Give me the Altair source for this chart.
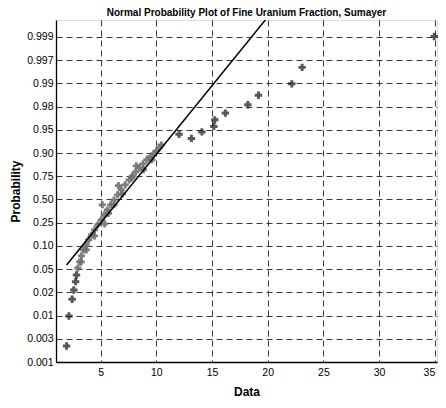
import altair as alt
import pandas as pd

# Probability tick labels (uniformly spaced positions 0..14 as in the reference)
prob_labels = ["0.001", "0.003", "0.01", "0.02", "0.05", "0.10", "0.25", "0.50",
               "0.75", "0.90", "0.95", "0.98", "0.99", "0.997", "0.999"]
x_ticks = [5, 10, 15, 20, 25, 30, 35]

# Isolated (tail) observations: data value, probability-position
tail_x = [1.94, 2.15, 2.44, 2.59, 2.75, 2.83,
          12.04, 13.15, 14.09, 15.16, 15.25, 16.20, 18.22, 19.17, 22.16, 23.09, 34.95]
tail_y = [0.69, 1.98, 2.70, 3.10, 3.46, 3.75,
          9.81, 9.63, 9.91, 10.14, 10.43, 10.72, 11.08, 11.49, 11.98, 12.69, 14.02]

# Dense central band of observations
band_x = [2.95, 3.12, 3.28, 3.45, 3.68, 3.92, 4.18, 4.45, 4.75, 5.05, 5.32, 5.60, 5.90, 6.20,
          6.52, 6.85, 7.20, 7.56, 7.85, 8.15, 8.47, 8.80, 9.15, 9.45, 9.75, 10.02, 10.25, 10.44,
          5.15, 4.45, 5.35, 6.20, 6.95, 7.80, 8.85, 9.60, 3.72, 3.25, 6.60, 8.20, 5.70]
band_y = [4.05, 4.31, 4.57, 4.83, 5.04, 5.26, 5.47, 5.69, 5.91, 6.12, 6.34, 6.55, 6.77, 6.98,
          7.20, 7.41, 7.63, 7.84, 8.02, 8.19, 8.36, 8.53, 8.71, 8.84, 8.97, 9.09, 9.22, 9.35,
          6.77, 5.43, 5.95, 6.77, 7.24, 7.93, 8.28, 8.71, 4.83, 4.31, 7.60, 8.45, 6.40]

# Reference normal fit line
fit_x = [1.94, 21.0]
fit_y = [4.18, 15.45]

tail = pd.DataFrame({"Data": tail_x, "P": tail_y})
band = pd.DataFrame({"Data": band_x, "P": band_y})
fit = pd.DataFrame({"Data": fit_x, "P": fit_y})

label_arr = "[" + ",".join("'%s'" % s for s in prob_labels) + "]"

xscale = alt.Scale(domain=[0.99, 35.2], nice=False, zero=False)
yscale = alt.Scale(domain=[0, 14.73], nice=False, zero=False)

font = "Liberation Sans"

xaxis = alt.Axis(values=x_ticks, title="Data", grid=True,
                 gridDash=[6, 4], gridColor="#222222", gridWidth=0.9, ticks=False,
                 domainColor="black", domainWidth=1.3, labelFont=font, labelFontSize=10.5,
                 labelColor="black", labelPadding=5, labelOverlap=False,
                 labelAlign={"condition": {"test": "datum.value >= 35", "value": "right"},
                             "value": "center"},
                 titleFont=font, titleFontSize=12,
                 titleFontWeight="bold", titleColor="black", titlePadding=9)
yaxis = alt.Axis(values=list(range(15)), title="Probability", grid=True,
                 gridDash=[6, 4], gridColor="#222222", gridWidth=0.9, ticks=False,
                 labelExpr=label_arr + "[datum.value]", labelOverlap=False,
                 domainColor="black", domainWidth=1.3, labelFont=font, labelFontSize=10.5,
                 labelColor="black", labelPadding=3, titleFont=font, titleFontSize=12,
                 titleFontWeight="bold", titleColor="black", titlePadding=4)

X = alt.X("Data:Q", scale=xscale, axis=xaxis)
Y = alt.Y("P:Q", scale=yscale, axis=yaxis)

band_layer = alt.Chart(band).mark_point(shape="cross", filled=True, size=50,
                                        color="#707070", opacity=0.9).encode(x=X, y=Y)
tail_layer = alt.Chart(tail).mark_point(shape="cross", filled=True, size=55,
                                        color="#111111").encode(x=X, y=Y)
line_layer = alt.Chart(fit).mark_line(color="black", strokeWidth=1.5, clip=True).encode(
    x=X, y=Y)

chart = alt.layer(band_layer, tail_layer, line_layer).properties(
    width=381, height=342,
    title=alt.TitleParams("Normal Probability Plot  of Fine Uranium Fraction, Sumayer",
                          font=font, fontSize=10, fontWeight="bold", color="black",
                          anchor="middle", offset=2),
    autosize=alt.AutoSizeParams(type="none"),
    padding={"left": 48, "top": 12, "right": 1, "bottom": 37},
).configure_view(stroke="black", strokeWidth=1.3).configure(background="white")

chart.save("out.html", embed_options={"renderer": "svg", "actions": False})
